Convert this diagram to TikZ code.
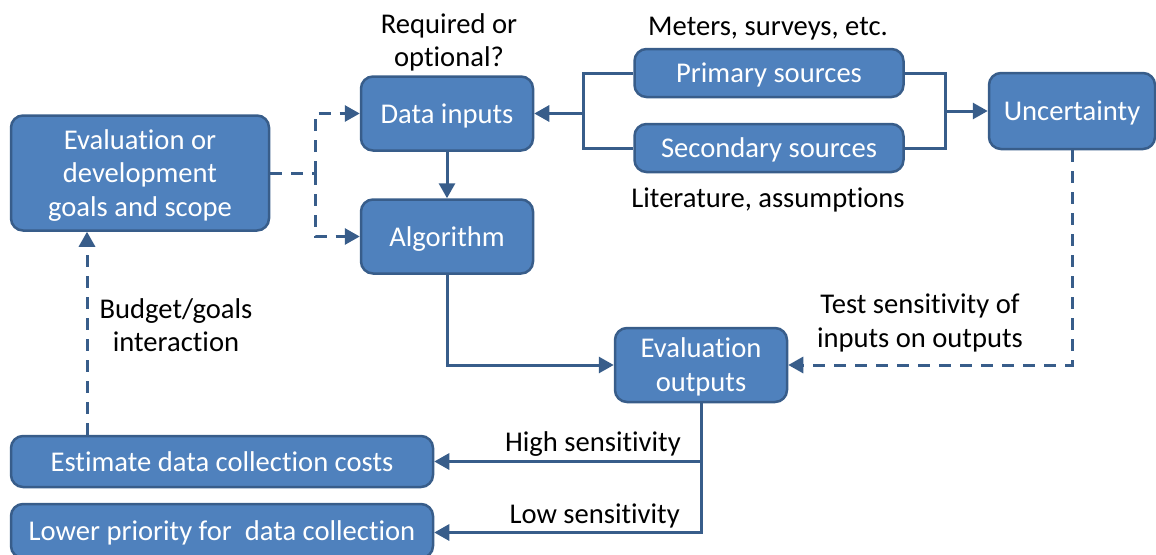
\documentclass[tikz,border=0pt]{standalone}
\usepackage{fontspec}
\setmainfont[Ligatures={NoCommon}]{Carlito}
\usetikzlibrary{arrows.meta}
\definecolor{boxfill}{RGB}{79,129,189}
\definecolor{boxline}{RGB}{56,93,138}
% centred lines, set a little lower than the node's own centre
\newcommand{\boxtext}[1]{\raisebox{-3pt}[\height][\depth]{\begin{tabular}{@{}c@{}}#1\end{tabular}}}
\begin{document}
\begin{tikzpicture}[x=1pt,y=-1pt,
  box/.style={draw=boxline, fill=boxfill, line width=2.5pt, rounded corners=12pt,
    text=white, font=\fontsize{28.6}{33.5}\selectfont, align=center, inner sep=0pt},
  lbl/.style={font=\fontsize{28.6}{33.5}\selectfont, align=center, inner sep=0pt},
  conn/.style={draw=boxline, line width=3pt},
  tip/.style={-{Triangle[length=15pt,width=16pt]}},
  dsh/.style={dash pattern=on 12pt off 9pt}]
\useasboundingbox (0,0) rectangle (1156,554);

% boxes
\node[box, minimum width=258pt, minimum height=115pt] (goals) at (140,173)
  {\boxtext{Evaluation or\\development\\goals and scope}};
\node[box, minimum width=172pt, minimum height=74pt] (datain) at (447,113.5) {\boxtext{Data inputs}};
\node[box, minimum width=172pt, minimum height=74pt] (algo) at (447,236.5) {\boxtext{Algorithm}};
\node[box, minimum width=269pt, minimum height=48pt] (prim) at (769,73) {\boxtext{Primary sources}};
\node[box, minimum width=269pt, minimum height=48pt] (sec) at (769,148) {\boxtext{Secondary sources}};
\node[box, minimum width=166pt, minimum height=76pt] (unc) at (1072,111) {\boxtext{Uncertainty}};
\node[box, minimum width=172pt, minimum height=74pt] (evalout) at (701,365) {\boxtext{Evaluation\\outputs}};
\node[box, minimum width=422pt, minimum height=51pt] (est) at (222,461.5) {\boxtext{Estimate data collection costs}};
\node[box, minimum width=422pt, minimum height=54pt] (low) at (222,531) {\boxtext{Lower priority for\ \ data collection}};

% labels
\node[lbl] (lreq) at (449,42.5) {Required or\\optional?};
\node[lbl] (lmet) at (768,29) {Meters, surveys, etc.};
\node[lbl] (llit) at (768,200) {Literature, assumptions};
\node[lbl] (lbud) at (176,325) {Budget/goals\\interaction};
\node[lbl] (ltest) at (920,323) {Test sensitivity of\\inputs on outputs};
\node[lbl, anchor=east] (lhigh) at (681,444.5) {High sensitivity};
\node[lbl, anchor=east] (llow) at (680,515.5) {Low sensitivity};

% connectors
\coordinate (gj) at (315,173);
\draw[conn, dsh] (goals.east) -- (gj);
\draw[conn, dsh, tip] (gj) |- (datain.west);
\draw[conn, dsh, tip] (gj) |- (algo.west);

\draw[conn, tip] (datain.south) -- (algo.north);

\coordinate (lj) at (583,113.5);
\draw[conn] (prim.west) -| (lj) |- (sec.west);
\draw[conn, tip] (lj) -- (datain.east);

\coordinate (rj) at (945,111);
\draw[conn] (prim.east) -| (rj) |- (sec.east);
\draw[conn, tip] (rj) -- (unc.west);

\draw[conn, tip] (algo.south) |- (evalout.west);
\draw[conn, dsh, tip] (unc.south) |- (evalout.east);

\draw[conn, tip] (evalout.south) |- (est.east);
\draw[conn, tip] (evalout.south) |- ([yshift=-1.5pt]low.east);

\draw[conn, dsh, tip] ([xshift=-135pt]est.north) -- ([xshift=-53pt]goals.south);
\end{tikzpicture}
\end{document}
